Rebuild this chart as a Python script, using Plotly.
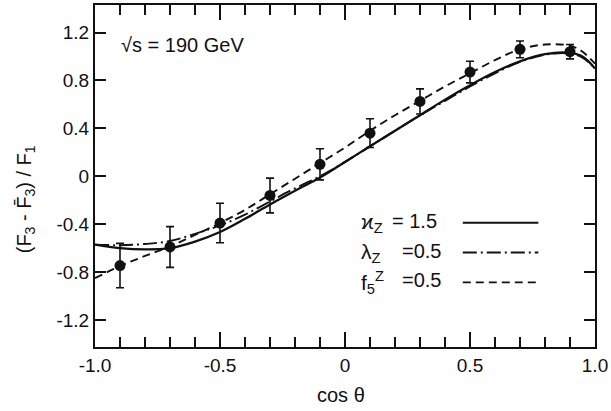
import plotly.graph_objects as go

# ---- data ----
curve_x = [-1.0, -0.9, -0.8, -0.7, -0.6, -0.5, -0.4, -0.3, -0.2, -0.1, 0.0,
           0.1, 0.2, 0.3, 0.4, 0.5, 0.6, 0.7, 0.8, 0.9, 0.95, 1.0]
kappa_z = [-0.57, -0.60, -0.61, -0.60, -0.545, -0.465, -0.355, -0.235, -0.12, -0.01, 0.12,
           0.25, 0.38, 0.51, 0.64, 0.76, 0.87, 0.96, 1.02, 1.03, 1.0, 0.9]
lambda_z = [-0.57, -0.575, -0.565, -0.54, -0.48, -0.41, -0.32, -0.21, -0.10, 0.0, 0.12,
            0.25, 0.38, 0.51, 0.63, 0.75, 0.86, 0.955, 1.015, 1.025, 0.99, 0.9]
f5_z = [-0.85, -0.75, -0.665, -0.585, -0.49, -0.39, -0.28, -0.15, -0.02, 0.11, 0.24,
        0.38, 0.51, 0.63, 0.75, 0.86, 0.97, 1.06, 1.10, 1.09, 1.04, 0.94]

pts_x = [-0.9, -0.7, -0.5, -0.3, -0.1, 0.1, 0.3, 0.5, 0.7, 0.9]
pts_y = [-0.745, -0.59, -0.39, -0.16, 0.10, 0.36, 0.625, 0.87, 1.06, 1.04]
pts_err = [0.185, 0.17, 0.165, 0.145, 0.13, 0.12, 0.105, 0.09, 0.07, 0.06]

x_tickvals = [-1.0, -0.5, 0.0, 0.5, 1.0]
x_ticktext = ["-1.0", "-0.5", "0", "0.5", "1.0"]
y_tickvals = [-1.2, -0.8, -0.4, 0.0, 0.4, 0.8, 1.2]
y_ticktext = ["-1.2", "-0.8", "-0.4", "0", "0.4", "0.8", "1.2"]

legend_labels = ["ϰ<sub>Z</sub>", "λ<sub>Z</sub>", "f<sub>5</sub><sup>Z</sup>"]
legend_values = ["= 1.5", "=0.5", "=0.5"]

FONT = "Liberation Sans, Arial, sans-serif"
BLACK = "#111111"

fig = go.Figure()
fig.add_trace(go.Scatter(x=curve_x, y=kappa_z, mode="lines", line_shape="spline",
                         line=dict(color=BLACK, width=2.3), showlegend=False))
fig.add_trace(go.Scatter(x=curve_x, y=lambda_z, mode="lines", line_shape="spline",
                         line=dict(color=BLACK, width=1.9, dash="14px,4px,2px,4px"), showlegend=False))
fig.add_trace(go.Scatter(x=curve_x, y=f5_z, mode="lines", line_shape="spline",
                         line=dict(color=BLACK, width=1.9, dash="8px,5px"), showlegend=False))
fig.add_trace(go.Scatter(x=pts_x, y=pts_y, mode="markers",
                         marker=dict(color=BLACK, size=11),
                         error_y=dict(type="data", array=pts_err, color=BLACK, thickness=1.6, width=4),
                         showlegend=False))

fig.update_xaxes(range=[-1.0, 1.0], tickmode="array", tickvals=x_tickvals, ticktext=x_ticktext,
                 ticks="inside", ticklen=15, tickwidth=1.6, tickcolor=BLACK,
                 minor=dict(dtick=0.1, tick0=0, ticks="inside", ticklen=10, tickwidth=1.6, tickcolor=BLACK),
                 showline=True, linecolor=BLACK, linewidth=2, mirror="ticks",
                 showgrid=False, zeroline=False, ticklabeloverflow="allow",
                 tickfont=dict(family=FONT, size=19, color=BLACK))
fig.update_yaxes(range=[-1.425, 1.43], tickmode="array", tickvals=y_tickvals, ticktext=y_ticktext,
                 ticks="inside", ticklen=11, tickwidth=1.6, tickcolor=BLACK,
                 showline=True, linecolor=BLACK, linewidth=2, mirror="ticks",
                 showgrid=False, zeroline=False, ticklabeloverflow="allow",
                 tickfont=dict(family=FONT, size=19, color=BLACK))

L, R, T, B = 95, 13, 3, 64
W, H = 611, 411
pw, ph = W - L - R, H - T - B

def px(xp):
    return (xp - L) / pw

def py(yp):
    return (H - B - yp) / ph

ann = []
ann.append(dict(x=px(342), y=py(395), xref="paper", yref="paper", xanchor="center", yanchor="middle",
                text="cos θ", showarrow=False, font=dict(family=FONT, size=20, color=BLACK)))
ann.append(dict(x=px(25), y=py(198), xref="paper", yref="paper", xanchor="center", yanchor="middle",
                text="(F<sub>3</sub> - F̄<sub>3</sub>) / F<sub>1</sub>", textangle=-90,
                showarrow=False, font=dict(family=FONT, size=20, color=BLACK)))
ann.append(dict(x=px(119), y=py(43), xref="paper", yref="paper", xanchor="left", yanchor="middle",
                text="√s = 190 GeV", showarrow=False, font=dict(family=FONT, size=20, color=BLACK)))

rows_y = [222, 252, 282]
dashes = ["solid", "14px,4px,2px,4px", "8px,5px"]
val_x = [392, 402, 402]
for lab, val, ry, vx in zip(legend_labels, legend_values, rows_y, val_x):
    ann.append(dict(x=px(361), y=py(ry), xref="paper", yref="paper", xanchor="left", yanchor="middle",
                    text=lab, showarrow=False, font=dict(family=FONT, size=21, color=BLACK)))
    ann.append(dict(x=px(vx), y=py(ry - 2), xref="paper", yref="paper", xanchor="left", yanchor="middle",
                    text=val, showarrow=False, font=dict(family=FONT, size=20, color=BLACK)))

shapes = []
for ry, d in zip(rows_y, dashes):
    shapes.append(dict(type="line", xref="paper", yref="paper", x0=px(465), x1=px(541),
                       y0=py(ry), y1=py(ry), line=dict(color=BLACK, width=1.9, dash=d)))

fig.update_layout(width=W, height=H, margin=dict(l=L, r=R, t=T, b=B),
                  paper_bgcolor="white", plot_bgcolor="white",
                  annotations=ann, shapes=shapes, showlegend=False)

fig.write_html("out.html")
